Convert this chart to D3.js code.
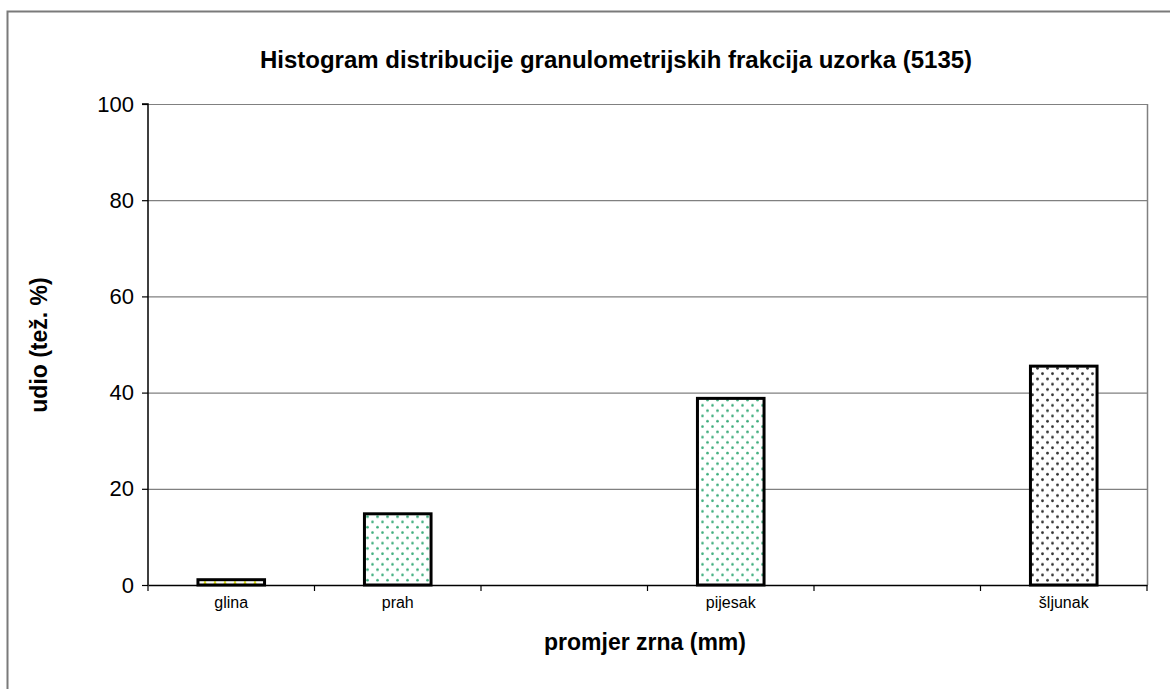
<!DOCTYPE html>
<html>
<head>
<meta charset="utf-8">
<script src="https://cdn.jsdelivr.net/npm/d3@7"></script>
<style>
  html, body { margin: 0; padding: 0; background: #fff; }
  svg { display: block; font-family: Arial, "Liberation Sans", sans-serif; }
</style>
</head>
<body>
<svg id="chart" width="1170" height="689"></svg>
<script>
// Data
const categories = ["glina", "prah", "", "pijesak", "", "šljunak"];
const values = [1.1, 14.8, null, 38.8, null, 45.5];
const patterns = ["dotYellow", "dotGreen", null, "dotGreen", null, "dotDark"];
const yTicks = [0, 20, 40, 60, 80, 100];
const title = "Histogram distribucije granulometrijskih frakcija uzorka (5135)";
const xTitle = "promjer zrna (mm)";
const yTitle = "udio (tež. %)";

const svg = d3.select("#chart");
const W = 1170, H = 689;
const m = { left: 148, right: 1147, top: 104, bottom: 585 };
const FONT = "Arial, 'Liberation Sans', sans-serif";

// Outer frame
svg.append("rect").attr("x", 7.5).attr("y", 11.5)
  .attr("width", W + 20).attr("height", H + 20)
  .attr("fill", "#fff").attr("stroke", "#7a7a7a").attr("stroke-width", 2);

// Patterns
const defs = svg.append("defs");
function dotPattern(id, color, r) {
  const p = defs.append("pattern").attr("id", id)
    .attr("patternUnits", "userSpaceOnUse").attr("width", 10).attr("height", 10.6);
  p.append("rect").attr("width", 10).attr("height", 10.6).attr("fill", "#fff");
  p.append("circle").attr("cx", 2.5).attr("cy", 2.6).attr("r", r).attr("fill", color);
  p.append("circle").attr("cx", 7.5).attr("cy", 7.9).attr("r", r).attr("fill", color);
}
dotPattern("dotGreen", "#3fae7e", 1.3);
dotPattern("dotDark", "#333", 1.4);
const py = defs.append("pattern").attr("id", "dotYellow")
  .attr("patternUnits", "userSpaceOnUse").attr("width", 10).attr("height", 3);
py.append("rect").attr("width", 10).attr("height", 3).attr("fill", "#fff");
py.append("circle").attr("cx", 5).attr("cy", 1.5).attr("r", 1.4).attr("fill", "#e8e800");

const x = d3.scaleBand().domain(d3.range(categories.length)).range([m.left, m.right]).paddingInner(0).paddingOuter(0);
const y = d3.scaleLinear().domain([0, 100]).range([m.bottom, m.top]);

// Gridlines
svg.append("g").selectAll("line").data(yTicks.filter(d => d > 0)).join("line")
  .attr("x1", m.left).attr("x2", m.right)
  .attr("y1", d => y(d) + 0.5).attr("y2", d => y(d) + 0.5)
  .attr("stroke", "#808080").attr("stroke-width", 1.2);
svg.append("line").attr("x1", m.right + 0.5).attr("x2", m.right + 0.5)
  .attr("y1", m.top).attr("y2", m.bottom).attr("stroke", "#808080").attr("stroke-width", 1.5);

// Bars
const bw = x.bandwidth() * 0.4;
svg.append("g").selectAll("rect")
  .data(values.map((v, i) => ({ v, i })).filter(d => d.v != null))
  .join("rect")
  .attr("x", d => x(d.i) + (x.bandwidth() - bw) / 2)
  .attr("width", bw)
  .attr("y", d => y(d.v))
  .attr("height", d => y(0) - y(d.v))
  .attr("fill", d => `url(#${patterns[d.i]})`)
  .attr("stroke", "#000").attr("stroke-width", 3);

// Y axis
const yAxis = d3.axisLeft(y).tickValues(yTicks).tickSize(6).tickPadding(8).tickFormat(d3.format("d"));
const gy = svg.append("g").attr("transform", `translate(${m.left},0)`).call(yAxis);
gy.select(".domain").attr("stroke", "#000").attr("stroke-width", 1.5).attr("d", `M-6,${y(100)}H0V${y(0)}`);
gy.selectAll(".tick line").attr("stroke", "#000").attr("stroke-width", 1.2);
gy.selectAll(".tick text").attr("font-size", 22).attr("fill", "#000").attr("font-family", FONT);

// X axis
const xAxis = d3.axisBottom(x).tickFormat(i => categories[i]).tickSize(0).tickPadding(12);
const gx = svg.append("g").attr("transform", `translate(0,${m.bottom})`).call(xAxis);
gx.select(".domain").attr("stroke", "#000").attr("stroke-width", 1.5);
gx.selectAll(".tick text").attr("font-size", 16).attr("fill", "#000").attr("font-family", FONT);
const bounds = d3.range(categories.length + 1).map(i => i < categories.length ? x(i) : m.right);
gx.append("g").selectAll("line").data(bounds).join("line")
  .attr("x1", d => d).attr("x2", d => d).attr("y1", 0).attr("y2", 6)
  .attr("stroke", "#000").attr("stroke-width", 1.2);

// Titles
svg.append("text").attr("x", 616).attr("y", 68).attr("text-anchor", "middle")
  .attr("font-size", 24).attr("font-weight", "bold").attr("font-family", FONT).text(title);
svg.append("text").attr("x", 645).attr("y", 650).attr("text-anchor", "middle")
  .attr("font-size", 23).attr("font-weight", "bold").attr("font-family", FONT).text(xTitle);
svg.append("text").attr("transform", `translate(47,345) rotate(-90)`)
  .attr("text-anchor", "middle").attr("font-size", 23).attr("font-weight", "bold").attr("font-family", FONT).text(yTitle);
</script>
</body>
</html>
